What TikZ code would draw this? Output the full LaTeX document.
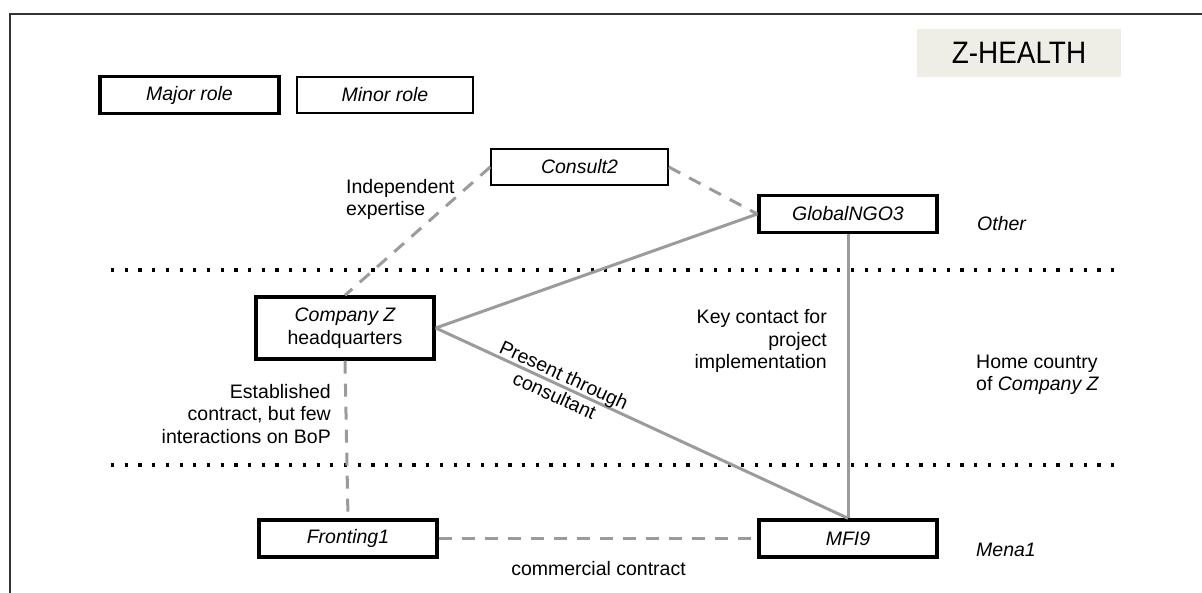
\documentclass[tikz,border=0pt]{standalone}
\usepackage{fontspec}
\setmainfont{Liberation Sans}
\definecolor{tagfill}{RGB}{238,238,230}
\definecolor{tiegray}{RGB}{155,155,155}
\begin{document}
\begin{tikzpicture}[x=1pt,y=-1pt,
  txt/.style={font=\fontsize{19.5}{22.5}\selectfont, inner sep=0pt},
  actor/.style={draw=black, fill=white, minimum width=178pt, minimum height=37pt,
                inner sep=0pt, font=\fontsize{19.5}{22.5}\selectfont\itshape},
  major/.style={actor, line width=3.4pt},
  minor/.style={actor, line width=1.6pt},
  tie/.style={draw=tiegray, line width=3pt},
  loose/.style={tie, dash pattern=on 13pt off 10pt},
  layer/.style={draw=black, line width=3.2pt, dash pattern=on 3.2pt off 10.5pt},
  lbl/.style={txt, align=left, anchor=west},
  rlbl/.style={txt, align=right, anchor=east}
]
\useasboundingbox (0,0) rectangle (1202,592);
% outer frame, running off the right and bottom edges
\draw[line width=1.8pt, black!80] (9.6,600) -- (9.6,14.3) -- (1210,14.3);

% region separators
\draw[layer] (111,270) -- (1120,270);
\draw[layer] (111,465) -- (1120,465);

% title tag
\node[fill=tagfill, minimum width=204pt, minimum height=48pt, inner sep=0pt] (title) at (1019,53) {};
\node[inner sep=0pt, font=\fontsize{31}{36}\selectfont] (titletext) at (title.center) {\scalebox{0.9}[1]{Z-HEALTH}};

% legend
\node[major, minimum width=179pt] (legmajor) at (189.5,95) {Major role};
\node[minor, minimum width=176pt, minimum height=36pt] (legminor) at (385,94.7) {Minor role};

% actors
\node[minor, minimum width=177pt, minimum height=36pt] (consult) at (579.5,167) {Consult2};
\node[major] (ngo) at (848,214) {GlobalNGO3};
\node[major, minimum height=62pt, align=center] (hq) at (345,328) {Company Z\\\upshape headquarters};
\node[major] (front) at (348,538.5) {Fronting1};
\node[major] (mfi) at (848,538.5) {MFI9};

% ties between actors
\draw[loose] (consult.west) -- (hq.north);
\draw[loose] (consult.east) -- (ngo.west);
\draw[tie] (hq.east) -- (ngo.west);
\draw[tie] (hq.east) -- (mfi.north)
  node[txt, pos=0.30, sloped, align=center] (present) {Present through\\consultant};
\draw[tie] (ngo.south) -- (mfi.north);
\draw[loose] (hq.south) -- (front.north);
\draw[loose] (front.east) -- (mfi.west);

% tie labels
\node[lbl] (indep) at (346,199.5) {Independent\\expertise};
\node[rlbl] (keyc) at (827,341) {Key contact for\\project\\implementation};
\node[rlbl] (estab) at (331,414) {Established\\contract, but few\\interactions on BoP};
\node[txt] (comm) at (598.5,569) {commercial contract};

% region names
\node[lbl, font=\fontsize{19.5}{22.5}\selectfont\itshape] (other) at (977,224) {Other};
\node[lbl] (home) at (976,375) {Home country\\of \textit{Company Z}};
\node[lbl, font=\fontsize{19.5}{22.5}\selectfont\itshape] (mena) at (976,550) {Mena1};
\end{tikzpicture}
\end{document}
